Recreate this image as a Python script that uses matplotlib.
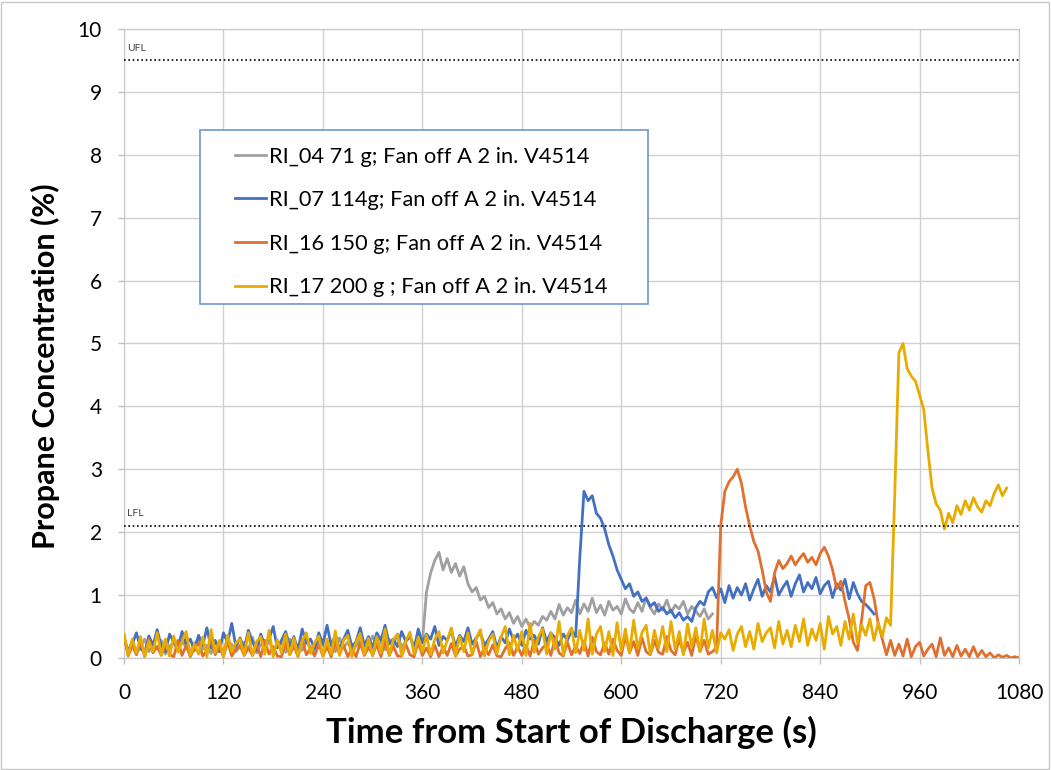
import numpy as np
import matplotlib
matplotlib.use("Agg")
import matplotlib.pyplot as plt
from matplotlib.patches import Rectangle

plt.rcParams['font.family'] = ['Lato', 'DejaVu Sans']

# time step of the logged concentrations (s)
step = 5

# RI_04 71 g (0 - 710 s)
ri04 = [0.20, 0.12, 0.25, 0.08, 0.18, 0.30, 0.10, 0.22, 0.15, 0.28,
        0.06, 0.19, 0.24, 0.11, 0.27, 0.16, 0.09, 0.23, 0.31, 0.14,
        0.20, 0.07, 0.26, 0.17, 0.12, 0.29, 0.21, 0.10, 0.18, 0.25,
        0.13, 0.33, 0.08, 0.22, 0.16, 0.27, 0.11, 0.19, 0.24, 0.09,
        0.30, 0.15, 0.21, 0.12, 0.26, 0.18, 0.07, 0.28, 0.20, 0.14,
        0.23, 0.10, 0.32, 0.17, 0.25, 0.12, 0.19, 0.29, 0.15, 0.22,
        0.35, 0.18, 0.26, 0.13, 0.30, 0.21, 0.38, 0.16, 0.27, 0.33,
        0.20, 0.36, 0.25,
        1.05, 1.35, 1.55, 1.68, 1.40, 1.58, 1.36, 1.50, 1.30, 1.45,
        1.18, 1.05, 1.12, 0.92, 0.98, 0.80, 0.88, 0.70, 0.78, 0.62,
        0.72, 0.55, 0.66, 0.50, 0.62, 0.48, 0.58, 0.52, 0.66, 0.60,
        0.74, 0.62, 0.85, 0.68, 0.80, 0.72, 0.92, 0.70, 0.86, 0.74,
        0.95, 0.72, 0.84, 0.68, 0.90, 0.76, 0.82, 0.70, 0.94, 0.78,
        0.72, 0.88, 0.74, 0.96, 0.80, 0.70, 0.86, 0.76, 0.92, 0.72,
        0.84, 0.78, 0.90, 0.70, 0.82, 0.74, 0.66, 0.78, 0.62, 0.70]

# RI_07 114 g (0 - 905 s)
ri07 = [0.30, 0.12, 0.22, 0.40, 0.15, 0.08, 0.35, 0.20, 0.45, 0.18,
        0.10, 0.38, 0.25, 0.14, 0.42, 0.22, 0.30, 0.12, 0.36, 0.20,
        0.48, 0.16, 0.28, 0.10, 0.40, 0.24, 0.55, 0.18, 0.32, 0.14,
        0.44, 0.26, 0.12, 0.38, 0.20, 0.30, 0.50, 0.16, 0.28, 0.42,
        0.18, 0.34, 0.12, 0.46, 0.24, 0.30, 0.15, 0.40, 0.22, 0.52,
        0.20, 0.36, 0.14, 0.30, 0.44, 0.18, 0.26, 0.48, 0.20, 0.34,
        0.16, 0.40, 0.28, 0.52, 0.22, 0.30, 0.18, 0.42, 0.26, 0.36,
        0.14, 0.46, 0.24, 0.38, 0.30, 0.50, 0.20, 0.34, 0.28, 0.44,
        0.18, 0.36, 0.26, 0.48, 0.22, 0.32, 0.40, 0.20, 0.30, 0.42,
        0.16, 0.34, 0.24, 0.46, 0.28, 0.38, 0.20, 0.44, 0.30, 0.36,
        0.22, 0.48, 0.26, 0.40, 0.32, 0.20, 0.38, 0.28, 0.44, 0.34,
        1.60, 2.65, 2.50, 2.58, 2.30, 2.22, 2.05, 1.80, 1.62, 1.40,
        1.25, 1.10, 1.18, 0.98, 1.05, 0.90, 0.95, 0.82, 0.88, 0.74,
        0.80, 0.70, 0.76, 0.64, 0.72, 0.60, 0.66, 0.58, 0.80, 0.90,
        0.84, 1.05, 1.12, 0.96, 1.10, 0.88, 1.15, 0.95, 1.12, 1.00,
        1.18, 0.92, 1.10, 1.25, 0.98, 1.15, 1.05, 1.30, 1.00, 1.12,
        1.22, 0.98, 1.18, 1.32, 1.05, 1.20, 1.10, 1.28, 1.02, 1.15,
        1.22, 0.96, 1.18, 1.08, 1.25, 0.94, 1.20, 1.02, 0.90, 0.85,
        0.78, 0.70]

# RI_16 150 g (0 - 1080 s)
ri16 = [0.35, 0.03, 0.20, 0.05, 0.25, 0.02, 0.30, 0.08, 0.18, 0.04,
        0.22, 0.06, 0.02, 0.28, 0.04, 0.20, 0.02, 0.16, 0.24, 0.03,
        0.12, 0.30, 0.05, 0.18, 0.02, 0.26, 0.03, 0.14, 0.20, 0.04,
        0.16, 0.04, 0.22, 0.02, 0.28, 0.06, 0.18, 0.03, 0.02, 0.24,
        0.05, 0.20, 0.02, 0.30, 0.05, 0.16, 0.03, 0.22, 0.03, 0.18,
        0.02, 0.26, 0.06, 0.20, 0.02, 0.15, 0.02, 0.24, 0.04, 0.17,
        0.05, 0.21, 0.02, 0.28, 0.04, 0.19, 0.03, 0.03, 0.22, 0.05,
        0.02, 0.25, 0.04, 0.16, 0.02, 0.20, 0.02, 0.18, 0.04, 0.23,
        0.03, 0.14, 0.19, 0.03, 0.05, 0.26, 0.02, 0.17, 0.05, 0.21,
        0.03, 0.02, 0.15, 0.24, 0.04, 0.18, 0.04, 0.20, 0.03, 0.28,
        0.06, 0.16, 0.22, 0.04, 0.30, 0.08, 0.03, 0.25, 0.05, 0.19,
        0.07, 0.27, 0.03, 0.33, 0.10, 0.05, 0.24, 0.06, 0.30, 0.12,
        0.04, 0.35, 0.08, 0.26, 0.04, 0.32, 0.10, 0.05, 0.28, 0.09,
        0.06, 0.34, 0.12, 0.05, 0.30, 0.08, 0.25, 0.04, 0.36, 0.10,
        0.28, 0.06, 0.10, 0.16,
        2.10, 2.65, 2.80, 2.88, 3.00, 2.78, 2.40, 2.10, 1.85, 1.70,
        1.40, 1.05, 0.90, 1.35, 1.55, 1.42, 1.50, 1.62, 1.48, 1.58,
        1.66, 1.52, 1.60, 1.48, 1.66, 1.76, 1.62, 1.40, 1.10, 1.22,
        0.90, 0.62, 0.25, 0.12, 0.60, 1.15, 1.20, 0.95, 0.55, 0.30,
        0.05, 0.28, 0.04, 0.22, 0.03, 0.30, 0.02, 0.18, 0.25, 0.03,
        0.14, 0.22, 0.02, 0.32, 0.04, 0.16, 0.02, 0.20, 0.03, 0.14,
        0.02, 0.18, 0.02, 0.12, 0.02, 0.08, 0.00, 0.05, 0.01, 0.04,
        0.00, 0.02, 0.00]

# RI_17 200 g (0 - 1065 s)
ri17 = [0.38, 0.04, 0.30, 0.08, 0.34, 0.02, 0.26, 0.10, 0.40, 0.05,
        0.30, 0.03, 0.35, 0.09, 0.26, 0.42, 0.04, 0.22, 0.06, 0.33,
        0.02, 0.45, 0.08, 0.28, 0.03, 0.36, 0.10, 0.24, 0.30, 0.05,
        0.40, 0.04, 0.26, 0.34, 0.06, 0.44, 0.02, 0.29, 0.08, 0.38,
        0.05, 0.32, 0.02, 0.27, 0.40, 0.07, 0.24, 0.35, 0.03, 0.30,
        0.06, 0.43, 0.04, 0.28, 0.36, 0.02, 0.25, 0.39, 0.06, 0.31,
        0.03, 0.34, 0.08, 0.46, 0.05, 0.29, 0.38, 0.04, 0.27, 0.41,
        0.06, 0.33, 0.10,
        0.36, 0.05, 0.30, 0.42, 0.08, 0.28, 0.48, 0.04, 0.34, 0.10,
        0.40, 0.06, 0.31, 0.45, 0.03, 0.27, 0.38, 0.07, 0.33, 0.50,
        0.05, 0.36, 0.12, 0.42, 0.04, 0.55, 0.09, 0.34, 0.46, 0.06,
        0.40, 0.14, 0.58, 0.05, 0.36, 0.48, 0.08, 0.44, 0.12, 0.62,
        0.06, 0.38, 0.50, 0.10, 0.42, 0.04, 0.56, 0.12, 0.46, 0.08,
        0.60, 0.15, 0.40, 0.52, 0.06, 0.44, 0.16, 0.50, 0.10, 0.58,
        0.14, 0.42, 0.05, 0.54, 0.18, 0.48, 0.10, 0.62, 0.16, 0.44,
        0.08, 0.40,
        0.30, 0.45, 0.12, 0.38, 0.50, 0.18, 0.42, 0.14, 0.55, 0.26,
        0.40, 0.48, 0.16, 0.58, 0.22, 0.44, 0.18, 0.52, 0.26, 0.62,
        0.20, 0.46, 0.28, 0.55, 0.14, 0.66, 0.38, 0.50, 0.20, 0.58,
        0.30, 0.70, 0.24, 0.52, 0.36, 0.62, 0.28, 0.56, 0.34, 0.64,
        0.52,
        2.60, 4.85, 5.00, 4.60, 4.48, 4.40, 4.18, 3.95, 3.30, 2.70,
        2.45, 2.35, 2.05, 2.30, 2.15, 2.42, 2.28, 2.50, 2.35, 2.55,
        2.40, 2.32, 2.50, 2.42, 2.62, 2.75, 2.58, 2.70]

labels = ["RI_04 71 g; Fan off A 2 in. V4514",
          "RI_07 114g; Fan off A 2 in. V4514",
          "RI_16 150 g; Fan off A 2 in. V4514",
          "RI_17 200 g ; Fan off A 2 in. V4514"]
colors = ["#a0a0a0", "#4470c0", "#e07030", "#e8ac00"]

ufl = 9.5
lfl = 2.1

fig = plt.figure(figsize=(10.51, 7.70), dpi=100)
ax = fig.add_axes([0.118, 0.1455, 0.8516, 0.8169])

for i, y in enumerate([ri04, ri07, ri16, ri17]):
    t = np.arange(len(y)) * step
    ax.plot(t, y, color=colors[i], lw=2.0, label=labels[i], zorder=2 + i)

# flammability limits
ax.axhline(ufl, color="black", lw=1.2, ls=(0, (1, 1.6)), zorder=7)
ax.axhline(lfl, color="black", lw=1.2, ls=(0, (1, 1.6)), zorder=7)
ax.text(4, ufl + 0.12, "UFL", fontsize=7.5, color="#404040", va="bottom")
ax.text(4, lfl + 0.12, "LFL", fontsize=7.5, color="#404040", va="bottom")

ax.set_xlim(0, 1080)
ax.set_ylim(0, 10)
ax.set_xticks(np.arange(0, 1081, 120))
ax.set_yticks(np.arange(0, 11, 1))
ax.grid(True, color="#d0d0d0", lw=1.0)
ax.set_axisbelow(True)
for s in ax.spines.values():
    s.set_color("#c8c8c8")
ax.tick_params(axis="both", colors="#c0c0c0", length=4, width=1.0,
               labelcolor="black", labelsize=15)
ax.tick_params(axis="y", pad=12)
ax.tick_params(axis="x", pad=14)

ax.set_xlabel("Time from Start of Discharge (s)", fontsize=25, fontweight="bold", labelpad=9)
ax.set_ylabel("Propane Concentration (%)", fontsize=22, fontweight="bold")
ax.yaxis.set_label_coords(-0.071, 0.464)

# legend box
ax.add_patch(Rectangle((0.0849, 0.5628), 0.5006, 0.2766, transform=ax.transAxes,
                       facecolor="white", edgecolor="#7096d1", lw=1.2, zorder=8))
leg = ax.legend(loc="upper left", bbox_to_anchor=(0.124, 0.813), frameon=False,
                fontsize=15.7, handlelength=1.4, handletextpad=0.15, labelspacing=1.08,
                borderpad=0, borderaxespad=0)
leg.set_zorder(9)

# outer chart border
fig.add_artist(Rectangle((0.001, 0.001), 0.997, 0.997, transform=fig.transFigure,
                         fill=False, edgecolor="#c8c8c8", lw=1.0))

fig.savefig("out.png", dpi=100)
